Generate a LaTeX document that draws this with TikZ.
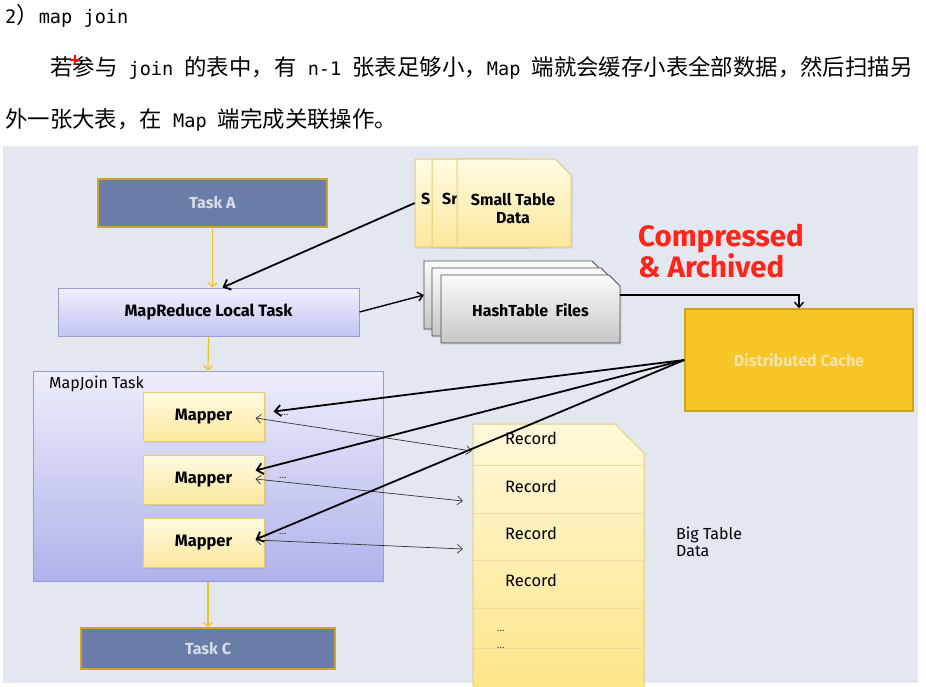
\documentclass[tikz,border=0pt]{standalone}
\usepackage{fontspec}
\setmainfont{Fira Sans}
\newfontfamily\cjk{Noto Sans CJK SC}
\newfontfamily\lat{DejaVu Sans Mono}
\usetikzlibrary{arrows.meta,shadows,calc}
\newcommand\hcj{\cjk\fontsize{22.4pt}{26pt}\selectfont}
\newcommand\hlt{\lat\fontsize{18.6pt}{22pt}\selectfont}
\newcommand\cardpath[5]{(#1,#2) -- ++({#3-#5},0) -- ++(#5,#5) -- ++(0,{#4-#5}) -- ++({-#3},0) -- cycle}
\definecolor{panel}{HTML}{E3E7F0}
\definecolor{taskfill}{HTML}{6A7DA8}
\definecolor{taskline}{HTML}{CDA52E}
\definecolor{tasktext}{HTML}{D8DDEA}
\definecolor{flowy}{HTML}{F3BF2C}
\definecolor{lavtop}{HTML}{F0F0FD}
\definecolor{lavbot}{HTML}{C2C4F3}
\definecolor{lavline}{HTML}{9A9CDA}
\definecolor{mjtop}{HTML}{EDEDFB}
\definecolor{mjbot}{HTML}{B0B2EB}
\definecolor{ytop}{HTML}{FFFBE3}
\definecolor{ybot}{HTML}{FCE79C}
\definecolor{yline}{HTML}{E7CD72}
\definecolor{btop}{HTML}{FFF8DA}
\definecolor{bbot}{HTML}{FDE588}
\definecolor{gtop}{HTML}{FBFBFB}
\definecolor{gbot}{HTML}{C6C6C8}
\definecolor{gline}{HTML}{4A4A4A}
\definecolor{cachefill}{HTML}{F6C526}
\definecolor{cacheline}{HTML}{D0A21E}
\definecolor{cachetext}{HTML}{F4E3AE}
\definecolor{hot}{HTML}{FF2518}
\begin{document}
\begin{tikzpicture}[x=1pt,y=-1pt,
  lbl/.style={font=\fontsize{16}{17}\selectfont,inner sep=0pt},
  task/.style={draw=taskline,line width=1.6pt,fill=taskfill,text=tasktext,inner sep=0pt,font=\bfseries\fontsize{16}{18}\selectfont},
  lav/.style={draw=lavline,line width=1pt,top color=lavtop,bottom color=lavbot,inner sep=0pt},
  softshadow/.style={drop shadow={opacity=0.18,shadow xshift=1.5pt,shadow yshift=-1.5pt}},
  mapbox/.style={draw=yline,line width=1pt,top color=ytop,bottom color=ybot,inner sep=0pt,minimum width=121pt,minimum height=49pt,font=\bfseries\fontsize{16.5}{18}\selectfont,softshadow},
  ycard/.style={draw=yline,line width=1pt,top color=ytop,bottom color=ybot,softshadow},
  gcard/.style={draw=gline,line width=0.8pt,top color=gtop,bottom color=gbot,softshadow},
  cardtext/.style={inner sep=0pt,align=center,font=\bfseries\fontsize{16}{18}\selectfont},
  flow/.style={draw=flowy,line width=1.2pt,-{Straight Barb[length=4pt,width=9pt]}},
  bigarrow/.style={draw=black,line width=1.8pt,-{Straight Barb[length=6pt,width=11pt]}},
  medarrow/.style={draw=black,line width=1.4pt,-{Straight Barb[length=5pt,width=9pt]}},
  fineline/.style={draw=black!80,line width=0.7pt,{Straight Barb[length=5pt,width=9pt]}-{Straight Barb[length=5pt,width=9pt]}},
  dots/.style={font=\fontsize{10}{10}\selectfont,text=black!75,inner sep=0pt},
  rowsep/.style={draw=yline!80!orange!60,line width=1.2pt}
]
\useasboundingbox (0,0) rectangle (926,686);
\fill[white] (0,0) rectangle (926,686);
\fill[panel] (3,146) rectangle (918,683);

% header text
\node[anchor=base west,inner sep=0pt] (l1) at (5,23) {{\hlt 2}{\hcj ）}{\hlt map\ join}};
\node[anchor=base west,inner sep=0pt] (l2) at (50,75) {{\hcj 若参与}{\hlt\ join\ }{\hcj 的表中，有}{\hlt\ n-1\ }{\hcj 张表足够小，}{\hlt Map\ }{\hcj 端就会缓存小表全部数据，然后扫描另}};
\node[anchor=base west,inner sep=0pt] (l3) at (5,127) {{\hcj 外一张大表，在}{\hlt\ Map\ }{\hcj 端完成关联操作。}};
\draw[red,line width=1.2pt] (70,60) -- (80,60) (75,55) -- (75,65);

% task column
\node[task,minimum width=229pt,minimum height=48pt] (taskA) at (212.5,203) {Task A};
\node[lav,minimum width=301pt,minimum height=48pt,font=\bfseries\fontsize{16.5}{18}\selectfont] (mrlt) at (208.5,312) {MapReduce Local Task};
\node[draw=lavline,line width=1pt,top color=mjtop,bottom color=mjbot,inner sep=0pt,minimum width=350pt,minimum height=210pt] (mapjoin) at (208,476) {};
\node[lbl,anchor=west,font=\fontsize{16}{18}\selectfont] (mjlabel) at (49,384) {MapJoin Task};
\node[mapbox] (m1) at (203.5,416.5) {Mapper};
\node[mapbox] (m2) at (203.5,479.5) {Mapper};
\node[mapbox] (m3) at (203.5,542.5) {Mapper};
\node[task,minimum width=254pt,minimum height=41pt] (taskC) at (208,648.5) {Task C};

% small table cards
\path[ycard] \cardpath{415}{159}{114}{88}{16};
\node[inner sep=0pt,minimum width=114pt,minimum height=88pt] (st1) at (472,203) {};
\node[cardtext,anchor=base west] (st1t) at (421,204) {S};
\path[ycard] \cardpath{432}{159}{114}{88}{16};
\node[inner sep=0pt,minimum width=114pt,minimum height=88pt] (st2) at (489,203) {};
\begin{scope}
\clip (432,159) rectangle (457,247);
\node[cardtext,anchor=base west] (st2t) at (442,204) {Sr};
\end{scope}
\path[ycard] \cardpath{457}{159}{114}{88}{16};
\node[inner sep=0pt,minimum width=114pt,minimum height=88pt] (st3) at (514,203) {};
\node[cardtext] (st3t) at (513,208.5) {Small Table\\Data};

% hashtable cards
\path[gcard] \cardpath{424}{261}{179}{68}{11};
\node[inner sep=0pt,minimum width=179pt,minimum height=68pt] (hb1) at (513.5,295) {};
\path[gcard] \cardpath{432}{268}{180}{68}{11};
\node[inner sep=0pt,minimum width=180pt,minimum height=68pt] (hb2) at (522,302) {};
\path[gcard] \cardpath{441}{275}{179}{68}{11};
\node[cardtext,minimum width=179pt,minimum height=68pt] (hash) at (530.5,310) {HashTable\ \ Files};

% distributed cache
\node[draw=cacheline,line width=1.5pt,fill=cachefill,text=cachetext,inner sep=0pt,minimum width=228pt,minimum height=102pt,font=\bfseries\fontsize{16}{18}\selectfont] (cache) at (799,360) {Distributed Cache};
\node[anchor=base west,inner sep=0pt,text=hot,font=\bfseries\fontsize{29.5}{32}\selectfont] (comp1) at (638,246) {Compressed};
\node[anchor=base west,inner sep=0pt,text=hot,font=\bfseries\fontsize{29.5}{32}\selectfont] (comp2) at (638,277) {\& Archived};

% big table
\path[draw=yline,line width=1pt,top color=btop,bottom color=bbot] (473,424) -- (615,424) -- (644,453) -- (644,690) -- (473,690) -- cycle;
\node[inner sep=0pt,minimum width=171pt,minimum height=41pt] (r1) at (558.5,444.5) {};
\node[inner sep=0pt,minimum width=171pt,minimum height=48pt] (r2) at (558.5,489) {};
\node[inner sep=0pt,minimum width=171pt,minimum height=47pt] (r3) at (558.5,536.5) {};
\node[inner sep=0pt,minimum width=171pt,minimum height=48pt] (r4) at (558.5,584) {};
\node[inner sep=0pt,minimum width=171pt,minimum height=40pt] (r5) at (558.5,628) {};
\node[inner sep=0pt,minimum width=171pt,minimum height=38pt] (r6) at (558.5,667) {};
\foreach \r in {r1,r2,r3,r4,r5} \draw[rowsep] (\r.south west) -- (\r.south east);
\node[lbl,anchor=west,font=\fontsize{16.5}{17}\selectfont] (rec1) at (505,438) {Record};
\node[lbl,anchor=west,font=\fontsize{16.5}{17}\selectfont] (rec2) at (505,486) {Record};
\node[lbl,anchor=west,font=\fontsize{16.5}{17}\selectfont] (rec3) at (505,533) {Record};
\node[lbl,anchor=west,font=\fontsize{16.5}{17}\selectfont] (rec4) at (505,580) {Record};
\node[dots,anchor=west] (d5) at (497,631) {...};
\node[dots,anchor=west] (d6) at (497,648) {...};
\node[lbl,anchor=west,align=left] (bigt) at (676,542) {Big Table\\Data};

% flow arrows
\draw[flow] (taskA.south) -- (taskA.south |- mrlt.north);
\draw[flow] (mrlt.south) -- (mapjoin.north);
\draw[flow] (mapjoin.south) -- (taskC.north);

% mapper <-> record arrows
\draw[fineline] ($(m1.east)+(-9,1.5)$) -- ($(r1.west)+(-1,6.5)$);
\draw[fineline] ($(m2.east)+(-9,-0.5)$) -- ($(r2.west)+(-10,12)$);
\draw[fineline] ($(m3.east)+(-9,-2.5)$) -- ($(r3.west)+(-10,12.5)$);
\node[dots,anchor=west] (dm1) at (281,415) {...};
\node[dots,anchor=west] (dm2) at (279,478) {...};
\node[dots,anchor=west] (dm3) at (279,534) {...};

% thick arrows
\draw[bigarrow] (st1.west) -- ($(mrlt.north)+(14,0)$);
\draw[medarrow] (mrlt.east) -- (hb1.west);
\draw[medarrow] ($(hash.east)+(0,-15)$) -| (cache.north);
\draw[bigarrow] (cache.west) -- ($(m1.east)+(9,-5)$);
\draw[bigarrow] (cache.west) -- ($(m2.east)+(-9,-9)$);
\draw[bigarrow] (cache.west) -- ($(m3.east)+(-9,-3)$);
\end{tikzpicture}
\end{document}
